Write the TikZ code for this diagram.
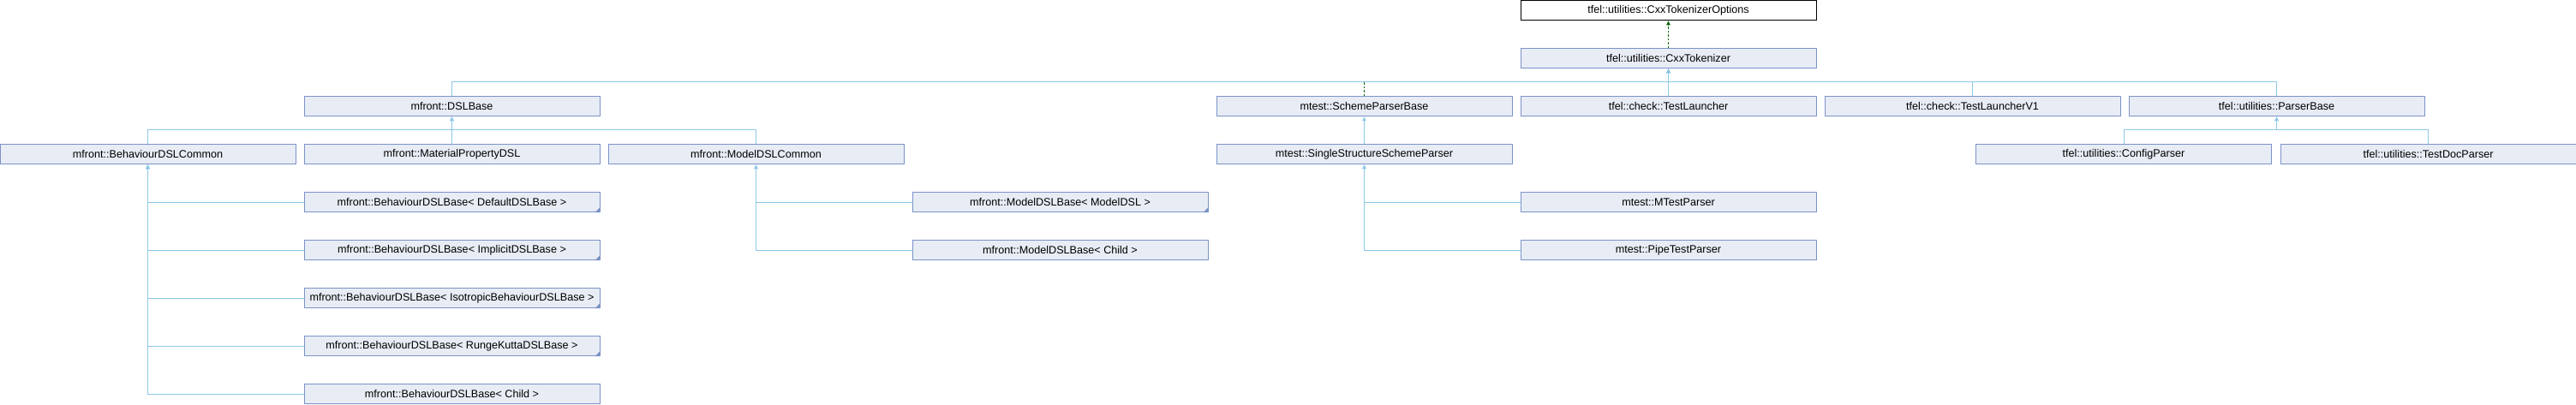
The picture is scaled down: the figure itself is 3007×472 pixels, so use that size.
\documentclass[tikz,border=0pt]{standalone}
\usepackage{fontspec}
\setmainfont{Liberation Sans}
\usetikzlibrary{arrows.meta}
\definecolor{boxfill}{RGB}{232,236,245}
\definecolor{boxline}{RGB}{123,147,200}
\definecolor{inhline}{RGB}{141,200,232}
\definecolor{usegreen}{RGB}{0,100,0}
\begin{document}
\begin{tikzpicture}[x=1pt,y=1pt,
  cls/.style={draw=boxline,fill=boxfill,line width=1pt,minimum width=345pt,
    minimum height=23pt,inner sep=0pt,font=\fontsize{12.6}{14}\selectfont},
  top/.style={cls,draw=black,fill=white},
  inh/.style={draw=inhline,line width=1pt,arrows={-Latex[length=5pt,width=5pt]}},
  uses/.style={draw=usegreen,line width=1pt,dash pattern=on 2.5pt off 2pt,
    arrows={-Latex[length=5pt,width=5pt]}}]
\useasboundingbox (0,0) rectangle (3007,-472);
% first rows
\node[top] (cxxopts) at (1947.5,-12) {tfel::utilities::CxxTokenizerOptions};
\node[cls] (cxxtok) at (1947.5,-68) {tfel::utilities::CxxTokenizer};
\node[cls] (dslbase) at (527.5,-124) {mfront::DSLBase};
\node[cls] (schemebase) at (1592.5,-124) {mtest::SchemeParserBase};
\node[cls] (testlauncher) at (1947.5,-124) {tfel::check::TestLauncher};
\node[cls] (testlauncherv) at (2302.5,-124) {tfel::check::TestLauncherV1};
\node[cls] (parserbase) at (2657.5,-124) {tfel::utilities::ParserBase};
\node[cls] (behcommon) at (172.5,-180) {mfront::BehaviourDSLCommon};
\node[cls] (mpdsl) at (527.5,-180) {mfront::MaterialPropertyDSL};
\node[cls] (modelcommon) at (882.5,-180) {mfront::ModelDSLCommon};
\node[cls] (singlescheme) at (1592.5,-180) {mtest::SingleStructureSchemeParser};
\node[cls] (configparser) at (2479,-180) {tfel::utilities::ConfigParser};
\node[cls] (testdocparser) at (2834.5,-180) {tfel::utilities::TestDocParser};
% templates
\node[cls] (behdefault) at (527.5,-236) {mfront::BehaviourDSLBase< DefaultDSLBase >};
\node[cls] (behimplicit) at (527.5,-292) {mfront::BehaviourDSLBase< ImplicitDSLBase >};
\node[cls] (behisotropic) at (527.5,-348) {mfront::BehaviourDSLBase< IsotropicBehaviourDSLBase >};
\node[cls] (behrk) at (527.5,-404) {mfront::BehaviourDSLBase< RungeKuttaDSLBase >};
\node[cls] (behchild) at (527.5,-460) {mfront::BehaviourDSLBase< Child >};
\node[cls] (modelmodel) at (1237.5,-236) {mfront::ModelDSLBase< ModelDSL >};
\node[cls] (modelchild) at (1237.5,-292) {mfront::ModelDSLBase< Child >};
\node[cls] (mtestparser) at (1947.5,-236) {mtest::MTestParser};
\node[cls] (pipeparser) at (1947.5,-292) {mtest::PipeTestParser};
% truncated marks
\foreach \n in {behdefault,behimplicit,behisotropic,behrk,modelmodel}
  \fill[boxline] ([xshift=-6pt]\n.south east) -- (\n.south east) -- ([yshift=6pt]\n.south east) -- cycle;
% edges
\draw[uses] (cxxtok.north) -- (cxxopts.south);
\draw[uses] (schemebase.north) -- ++(0,17) -| (cxxtok.south);
\foreach \n in {dslbase,testlauncher,testlauncherv,parserbase}
  \draw[inh] (\n.north) -- ++(0,17) -| (cxxtok.south);
\foreach \n in {behcommon,mpdsl,modelcommon}
  \draw[inh] (\n.north) -- ++(0,16.5) -| (dslbase.south);
\foreach \n in {configparser,testdocparser}
  \draw[inh] (\n.north) -- ++(0,16.5) -| (parserbase.south);
\draw[inh] (singlescheme.north) -- (schemebase.south);
\foreach \n in {behdefault,behimplicit,behisotropic,behrk,behchild}
  \draw[inh] (\n.west) -| (behcommon.south);
\foreach \n in {modelmodel,modelchild}
  \draw[inh] (\n.west) -| (modelcommon.south);
\foreach \n in {mtestparser,pipeparser}
  \draw[inh] (\n.west) -| (singlescheme.south);
\end{tikzpicture}
\end{document}
